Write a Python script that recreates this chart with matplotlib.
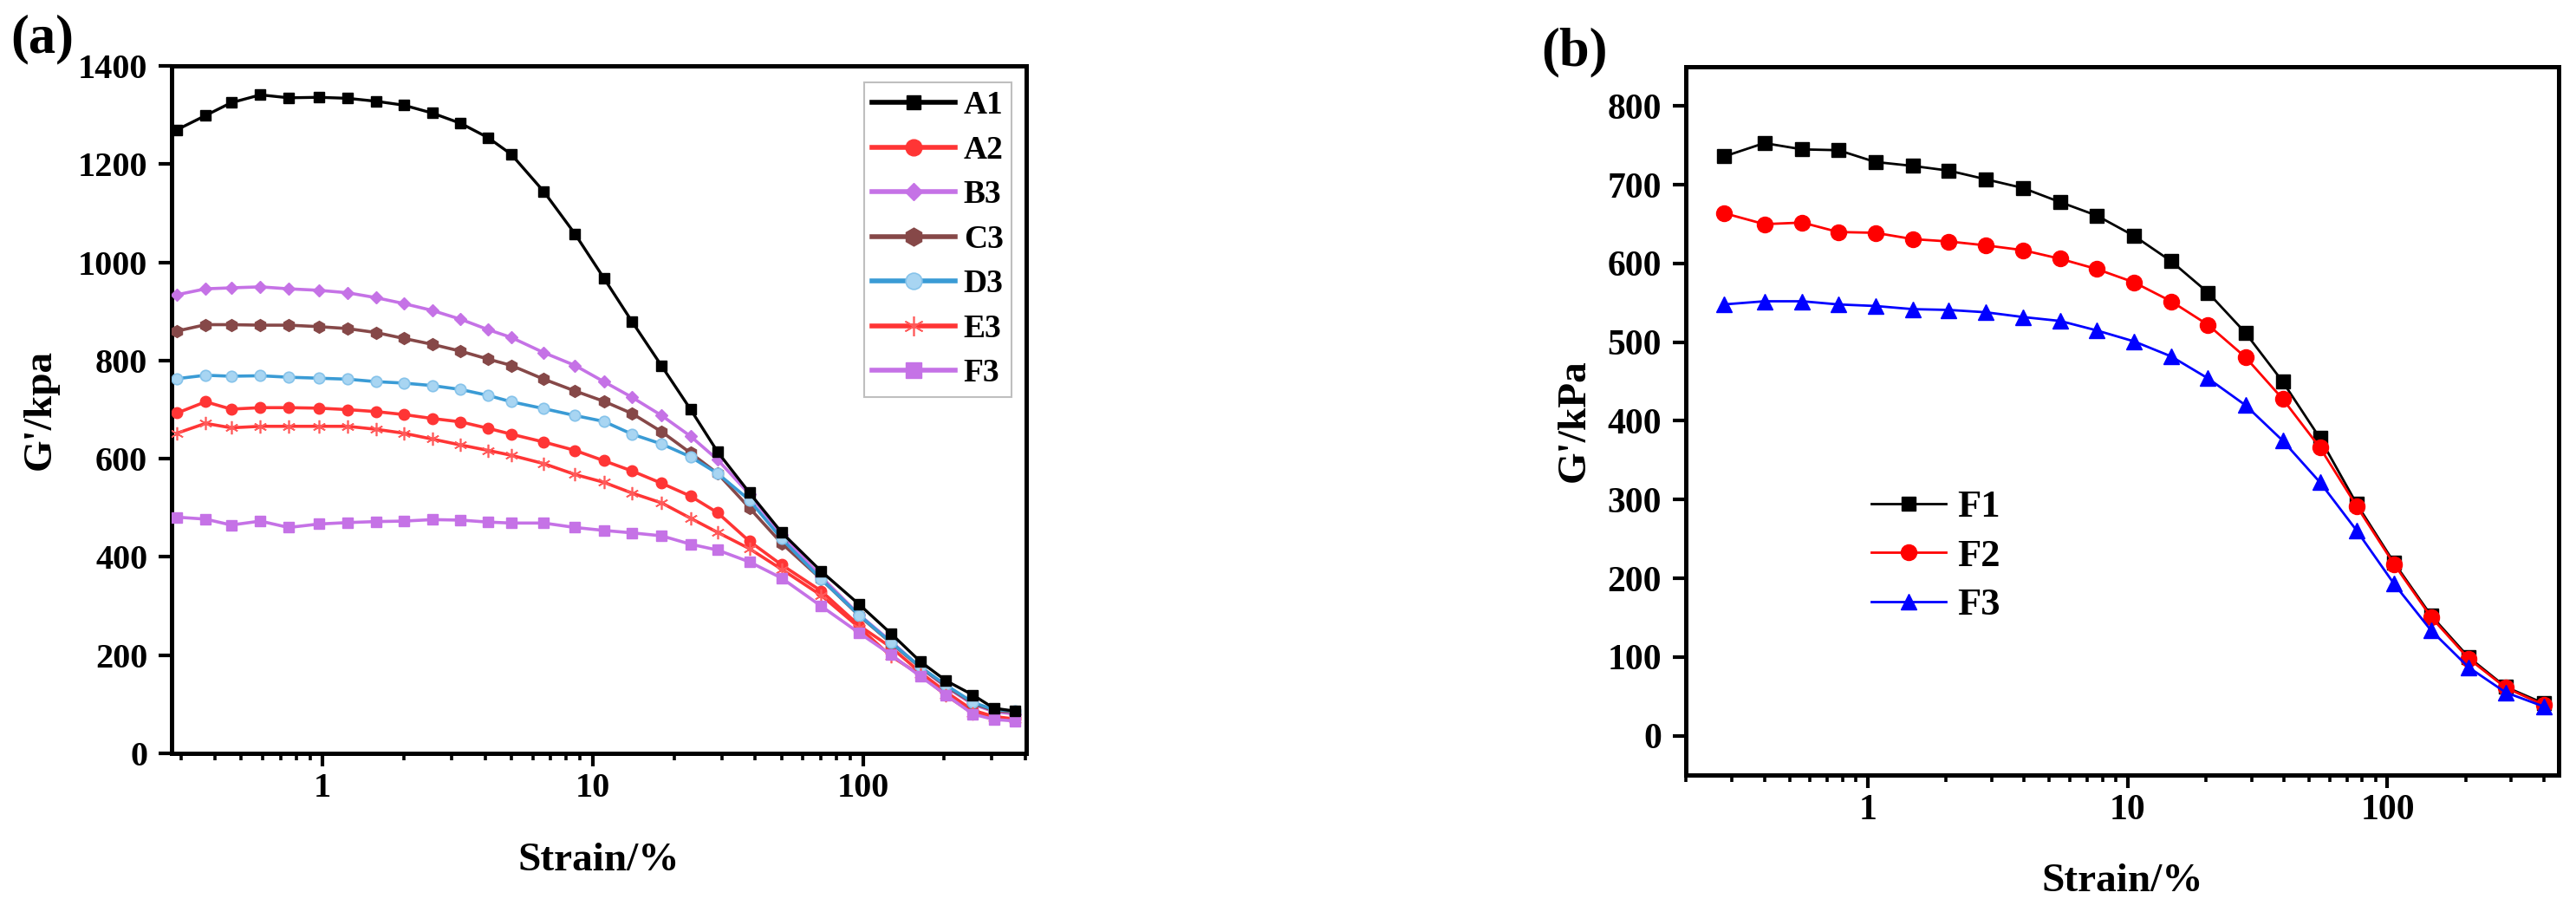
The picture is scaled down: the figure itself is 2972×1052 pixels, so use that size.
import matplotlib
matplotlib.use('Agg')
import matplotlib.pyplot as plt
from matplotlib.ticker import FixedLocator, LogLocator, NullFormatter, FuncFormatter, MultipleLocator

plt.rcParams['font.family'] = ['Liberation Serif', 'DejaVu Serif']
plt.rcParams['font.weight'] = 'bold'
plt.rcParams['axes.labelweight'] = 'bold'

# ---------------- data: panel (a) ----------------
strain_a = [0.29, 0.37, 0.46, 0.59, 0.75, 0.97, 1.24, 1.58, 2.0, 2.55, 3.25, 4.1, 5.0, 6.6, 8.6,
            11, 14, 18, 23, 29, 38, 50, 70, 97, 127, 163, 203, 255, 305, 366]
A1 = [1270, 1299, 1325, 1341, 1335, 1336, 1334, 1328, 1320, 1304, 1283, 1254, 1220, 1144, 1058,
      968, 879, 789, 701, 614, 531, 450, 371, 303, 244, 187, 148, 119, 92, 86]
A2 = [693, 716, 701, 704, 704, 703, 700, 696, 690, 682, 675, 662, 650, 634, 617,
      596, 575, 550, 524, 490, 432, 384, 331, 260, 216, 165, 125, 88, 75, 70]
B3 = [934, 946, 948, 950, 946, 943, 938, 928, 916, 902, 884, 863, 847, 816, 790,
      757, 725, 688, 646, 598, 528, 445, 360, 282, 228, 175, 135, 100, 85, 80]
C3 = [860, 873, 873, 872, 872, 869, 865, 857, 845, 833, 819, 803, 790, 762, 738,
      717, 692, 655, 612, 570, 500, 428, 355, 280, 225, 175, 137, 102, 87, 84]
D3 = [763, 770, 768, 769, 766, 764, 762, 757, 754, 749, 741, 729, 716, 702, 688,
      676, 650, 630, 604, 570, 516, 437, 355, 281, 226, 176, 139, 104, 89, 86]
E3 = [652, 672, 663, 666, 666, 666, 666, 660, 652, 640, 628, 617, 607, 590, 568,
      552, 530, 510, 479, 450, 417, 375, 322, 256, 198, 160, 118, 82, 72, 68]
F3a = [481, 477, 465, 473, 460, 467, 470, 472, 473, 476, 475, 471, 469, 469, 460,
       454, 449, 443, 426, 414, 390, 357, 300, 245, 201, 157, 119, 80, 69, 66]
labels_a = ['A1', 'A2', 'B3', 'C3', 'D3', 'E3', 'F3']

# ---------------- data: panel (b) ----------------
strain_b = [0.28, 0.40, 0.56, 0.77, 1.07, 1.49, 2.05, 2.85, 3.95, 5.5, 7.6, 10.6, 14.7, 20.4,
            28.4, 39.5, 55, 76, 106, 147, 205, 285, 400]
F1 = [736, 753, 745, 744, 729, 724, 718, 707, 696, 678, 661, 635, 603, 563,
      512, 450, 378, 295, 220, 153, 100, 62, 41]
F2 = [664, 650, 652, 640, 639, 631, 628, 623, 617, 606, 593, 576, 552, 522,
      481, 428, 366, 292, 218, 151, 98, 61, 39]
F3b = [548, 552, 552, 548, 546, 542, 541, 538, 532, 527, 515, 501, 482, 454,
       420, 375, 322, 261, 193, 134, 87, 55, 37]
labels_b = ['F1', 'F2', 'F3']

W, H = 2972, 1052
fig = plt.figure(figsize=(W / 100, H / 100), dpi=100)

def px_axes(l, t, r, b):
    return fig.add_axes([l / W, 1 - b / H, (r - l) / W, (b - t) / H])

def style_axes(ax, fs):
    for s in ax.spines.values():
        s.set_linewidth(3.6)
        s.set_color('black')
    ax.set_xscale('log')
    ax.xaxis.set_major_locator(FixedLocator([1, 10, 100]))
    ax.xaxis.set_major_formatter(FuncFormatter(lambda v, p: f'{v:g}'))
    ax.xaxis.set_minor_locator(LogLocator(base=10, subs=range(2, 10), numticks=50))
    ax.xaxis.set_minor_formatter(NullFormatter())
    ax.tick_params(which='major', direction='out', length=11, width=3, labelsize=fs,
                   top=False, right=False)
    ax.tick_params(which='minor', direction='out', length=5.5, width=2.6,
                   top=False, right=False)
    ax.tick_params(axis='x', which='major', pad=5)
    ax.tick_params(axis='y', which='major', pad=9)
    ax.yaxis.set_minor_locator(FixedLocator([]))
    for lab in ax.get_xticklabels() + ax.get_yticklabels():
        lab.set_fontweight('bold')

# ================= panel (a) =================
ax1 = px_axes(198, 76, 1184, 869)
style_axes(ax1, 29)
ax1.plot(strain_a, A1, color='black', lw=2.4, marker='s', ms=8, label=labels_a[0], zorder=5)
ax1.plot(strain_a, A2, color='#ff3535', lw=2.6, marker='o', ms=9, label=labels_a[1], zorder=4)
ax1.plot(strain_a, B3, color='#c572e6', lw=2.6, marker='D', ms=7, label=labels_a[2], zorder=4)
ax1.plot(strain_a, C3, color='#864848', lw=2.6, marker='h', ms=10, label=labels_a[3], zorder=4)
ax1.plot(strain_a, D3, color='#3a9bd5', lw=2.6, marker='o', ms=9, mfc='#a8d5f2',
         mec='#86c3ea', mew=1.2, label=labels_a[4], zorder=4)
ax1.plot(strain_a, E3, color='#ff3535', lw=2.6, marker=(6, 2, 0), ms=11, mec='#ff5a5a',
         mew=1.2, label=labels_a[5], zorder=4)
ax1.plot(strain_a, F3a, color='#c572e6', lw=2.6, marker='s', ms=9, label=labels_a[6], zorder=4)
ax1.set_xlim(0.277, 402)
ax1.set_ylim(0, 1400)
ax1.yaxis.set_major_locator(MultipleLocator(200))
ax1.set_xlabel('Strain/%', fontsize=34, fontweight='bold')
ax1.set_ylabel("G'/kpa", fontsize=34, fontweight='bold')
ax1.xaxis.set_label_coords(0.5, -0.156)
ax1.xaxis.label.set_va('center')
ax1.yaxis.set_label_coords(-0.153, 0.5)
ax1.yaxis.label.set_va('center')
leg1 = ax1.legend(loc='upper right', bbox_to_anchor=(1167 / W, 1 - 95 / H),
                  bbox_transform=fig.transFigure, borderaxespad=0,
                  handlelength=2.55, handletextpad=0.27, labelspacing=0.44,
                  borderpad=0.25, markerscale=1.5, fancybox=False, frameon=True,
                  prop={'weight': 'bold', 'size': 27})
leg1.get_frame().set_edgecolor('#b0b0b0')
leg1.get_frame().set_linewidth(1.5)
for l in leg1.get_lines():
    l.set_linewidth(4)
fig.text(12 / W, 1 - 45 / H, '(a)', fontsize=45, fontweight='bold', ha='left', va='center')

# ================= panel (b) =================
ax2 = px_axes(1945, 77, 2952, 894)
style_axes(ax2, 30)
ax2.plot(strain_b, F1, color='black', lw=2, marker='s', ms=11.5, label=labels_b[0], zorder=4)
ax2.plot(strain_b, F2, color='#ff0000', lw=2, marker='o', ms=13, label=labels_b[1], zorder=4)
ax2.plot(strain_b, F3b, color='#0000ff', lw=2, marker='^', ms=13, label=labels_b[2], zorder=4)
ax2.set_xlim(0.1995, 456)
ax2.set_ylim(-50, 850)
ax2.yaxis.set_major_locator(MultipleLocator(100))
ax2.set_xlabel('Strain/%', fontsize=34, fontweight='bold')
ax2.set_ylabel("G'/kPa", fontsize=34, fontweight='bold')
ax2.xaxis.set_label_coords(0.5, -0.15)
ax2.xaxis.label.set_va('center')
ax2.yaxis.set_label_coords(-0.127, 0.5)
ax2.yaxis.label.set_va('center')
leg2 = ax2.legend(loc='upper left', bbox_to_anchor=(2159 / W, 1 - 565 / H),
                  bbox_transform=fig.transFigure, borderaxespad=0, borderpad=0,
                  handlelength=1.94, handletextpad=0.3, labelspacing=0.37,
                  frameon=False, prop={'weight': 'bold', 'size': 32})
fig.text(1778 / W, 1 - 60 / H, '(b)', fontsize=45, fontweight='bold', ha='left', va='center')

fig.savefig('out.png', dpi=100, facecolor='white')
